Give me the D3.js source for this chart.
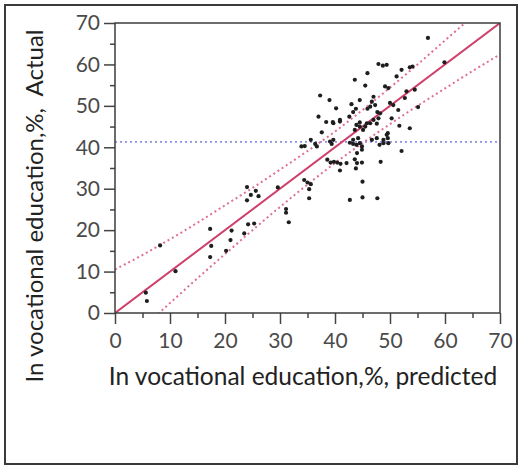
<!DOCTYPE html>
<html>
<head>
<meta charset="utf-8">
<script src="https://cdn.jsdelivr.net/npm/d3@7"></script>
<style>
  body { margin: 0; background: #fff; }
  svg { display: block; }
  .tick text { font-family: Lato, "Open Sans", sans-serif; fill: #4a4a4a; }
</style>
</head>
<body>
<div id="chart"></div>
<script>
// data
const predicted = [5.6,5.8,8.2,11.0,17.3,17.5,17.3,21.2,21.0,20.2,23.5,24.2,25.3,24.0,24.7,24.0,25.6,26.1,29.6,31.1,31.1,31.6,
  34.4,35.0,35.6,35.3,35.3,42.7,45.0,47.7,45.0,48.3,40.9,38.6,39.2,39.8,40.4,41.0,42.1,43.6,44.0,44.0,44.9,
  33.9,34.5,35.6,36.4,36.7,39.1,39.4,39.7,42.7,43.3,44.2,44.5,44.9,46.7,47.6,48.1,48.8,37.6,39.7,40.9,43.9,44.5,45.5,46.4,47.6,
  47.9,48.7,45.9,43.6,45.5,37.3,39.0,40.2,37.0,43.0,43.8,43.3,44.5,47.0,46.7,46.4,45.9,47.3,47.7,42.6,40.9,39.6,38.4,
  56.9,59.9,53.6,54.1,52.1,51.2,49.4,49.1,49.7,53.0,54.5,52.7,51.5,55.1,50.3,50.0,50.6,
  53.6,52.1,51.7,49.4,49.7,49.6,49.6,48.8,
  48.2,47.9,47.0,45.8,44.5,43.6,45.1,43.3,43.9,44.9,43.8];
const actual = [4.9,2.9,16.3,10.1,20.3,16.2,13.5,19.9,17.6,15.0,19.2,21.4,21.6,30.4,28.5,27.2,29.5,28.2,30.3,25.1,24.2,21.9,
  32.1,31.5,31.1,29.9,27.7,27.3,27.9,27.7,31.7,36.5,34.4,37.0,36.3,36.5,36.3,36.0,36.2,37.1,38.6,36.2,36.3,
  40.2,40.3,41.8,40.8,40.2,41.4,40.8,41.8,41.1,40.8,42.2,41.0,40.2,41.8,42.2,40.6,41.0,43.6,45.8,46.2,45.4,46.0,45.0,45.8,45.7,
  60.1,59.7,57.9,56.3,54.9,52.5,51.4,49.4,47.4,50.4,49.3,48.5,51.4,52.2,51.0,49.8,49.3,50.2,48.5,47.4,46.6,46.1,46.1,
  66.4,60.5,59.3,59.5,58.7,57.1,59.9,54.7,54.3,53.5,53.9,51.9,49.0,49.7,47.0,50.7,50.2,
  44.6,39.1,45.2,43.0,41.0,43.4,42.2,41.8,
  48.2,47.0,46.6,45.8,45.0,44.2,44.2,41.8,40.6,39.4,34.9];

// fit line and confidence curves
const fitX = [0, 70];
const fitY = [0, 70];
const bandX = [0,5,10,15,20,25,30,35,40,45,50,55,60,65,70];
const bandUpper = [10.5,14.0,17.8,21.8,26.0,30.2,34.6,39.1,43.8,49.0,54.4,60.0,65.8,71.6,77.6];
const bandLower = [-8.5,-3.5,2.4,8.4,14.2,20.0,25.6,31.0,36.2,41.0,45.6,50.0,54.2,58.4,62.4];
const meanActual = 41.3;

const majorTicks = [0,10,20,30,40,50,60,70];
const minorTicks = [5,15,25,35,45,55,65];
const xTitle = "In vocational education,%, predicted";
const yTitle = "In vocational education,%,  Actual";

const W = 520, H = 466;
const m = {left: 115, top: 23, right: 20, bottom: 153};
const pw = W - m.left - m.right, ph = H - m.top - m.bottom;

const svg = d3.select("#chart").append("svg").attr("width", W).attr("height", H);

// outer frame
svg.append("rect")
  .attr("x", 5).attr("y", 5).attr("width", 512).attr("height", 459)
  .attr("fill", "none").attr("stroke", "#3a3a3a").attr("stroke-width", 2);

const g = svg.append("g").attr("transform", `translate(${m.left},${m.top})`);

const x = d3.scaleLinear().domain([0, 70]).range([0, pw]);
const y = d3.scaleLinear().domain([0, 70]).range([ph, 0]);

g.append("clipPath").attr("id", "clip")
  .append("rect").attr("width", pw).attr("height", ph);

// axes
const xMajor = d3.axisBottom(x).tickValues(majorTicks).tickSize(11).tickPadding(9);
const xMinor = d3.axisBottom(x).tickValues(minorTicks).tickSize(5).tickFormat("");
const yMajor = d3.axisLeft(y).tickValues(majorTicks).tickSize(11).tickPadding(4);
const yMinor = d3.axisLeft(y).tickValues(minorTicks).tickSize(5).tickFormat("");

[[xMajor, true], [xMinor, true], [yMajor, false], [yMinor, false]].forEach(([ax, isX]) => {
  const a = g.append("g");
  if (isX) a.attr("transform", `translate(0,${ph})`);
  a.call(ax);
  a.select(".domain").remove();
  a.selectAll(".tick line").attr("stroke", "#444").attr("stroke-width", 1.5);
  a.selectAll(".tick text").style("font-size", "21px");
});

const plot = g.append("g").attr("clip-path", "url(#clip)");

// mean line
plot.append("line")
  .attr("x1", 0).attr("x2", pw)
  .attr("y1", y(meanActual)).attr("y2", y(meanActual))
  .attr("stroke", "#8f8fe8").attr("stroke-width", 1.6).attr("stroke-dasharray", "2,3");

// confidence curves
const band = d3.line().curve(d3.curveMonotoneX);
[bandUpper, bandLower].forEach(vals => {
  plot.append("path")
    .attr("d", band(bandX.map((d, i) => [x(d), y(vals[i])])))
    .attr("fill", "none").attr("stroke", "#e0708e").attr("stroke-width", 2)
    .attr("stroke-dasharray", "2,3");
});

// fit line
plot.append("line")
  .attr("x1", x(fitX[0])).attr("y1", y(fitY[0]))
  .attr("x2", x(fitX[1])).attr("y2", y(fitY[1]))
  .attr("stroke", "#cf3f69").attr("stroke-width", 2);

// points
plot.selectAll("circle")
  .data(predicted)
  .enter()
  .append("circle")
  .attr("cx", d => x(d))
  .attr("cy", (d, i) => y(actual[i]))
  .attr("r", 2.1)
  .attr("fill", "#1e1e1e");

// plot frame
g.append("rect").attr("width", pw).attr("height", ph)
  .attr("fill", "none").attr("stroke", "#3c3c3c").attr("stroke-width", 1.5);

// titles
svg.append("text")
  .attr("x", 303).attr("y", 385)
  .attr("text-anchor", "middle")
  .style("font-family", "Lato, 'Open Sans', sans-serif")
  .style("font-size", "24.5px").style("fill", "#222")
  .text(xTitle);

svg.append("text")
  .attr("transform", "translate(43,206) rotate(-90)")
  .attr("text-anchor", "middle")
  .style("font-family", "Lato, 'Open Sans', sans-serif")
  .style("font-size", "24px").style("fill", "#222")
  .style("white-space", "pre")
  .text(yTitle);
</script>
</body>
</html>
